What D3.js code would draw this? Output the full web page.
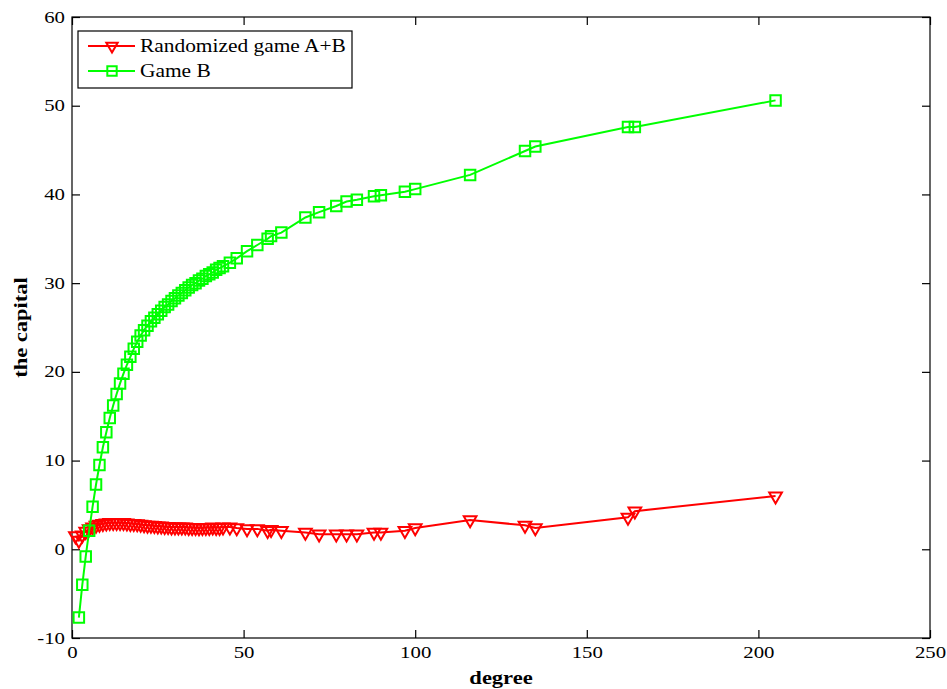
<!DOCTYPE html>
<html>
<head>
<meta charset="utf-8">
<script src="https://cdn.jsdelivr.net/npm/d3@7"></script>
<style>
  body { margin: 0; background: #fff; }
  #box1 { width: 947px; height: 689px; }
</style>
</head>
<body>
<div id="box1"><svg id="box1_svg"></svg></div>
<script>
"use strict";

// randomized game A+B (red, triangles)
const degree_red = [1, 2, 3, 4, 5, 6, 7, 8, 9, 10, 11, 12, 13, 14, 15, 16, 17, 18, 19, 20,
  21, 22, 23, 24, 25, 26, 27, 28, 29, 30, 31, 32, 33, 34, 35, 36, 37, 38, 39, 40, 41, 42, 43, 44,
  46, 48, 51, 54, 57, 58, 61, 68, 72, 77, 80, 83, 88, 90, 97, 100, 116, 132, 135, 162, 164, 205];
const capital_red = [1.5, 1.0, 1.6, 2.0, 2.3, 2.5, 2.7, 2.8, 2.9, 2.95, 3.0, 3.0, 3.0, 3.0, 3.0, 2.95, 2.9, 2.9, 2.85, 2.8,
  2.75, 2.7, 2.7, 2.65, 2.6, 2.6, 2.55, 2.55, 2.5, 2.5, 2.5, 2.5, 2.5, 2.45, 2.45, 2.45, 2.4, 2.45, 2.45, 2.45, 2.5, 2.45, 2.45, 2.5,
  2.5, 2.4, 2.3, 2.3, 2.1, 2.2, 2.1, 1.9, 1.7, 1.7, 1.7, 1.7, 1.9, 1.9, 2.1, 2.4, 3.3, 2.7, 2.4, 3.6, 4.3, 6.0];

// game B (green, squares)
const degree_green = [2, 3, 4, 5, 6, 7, 8, 9, 10, 11, 12, 13, 14, 15, 16, 17, 18, 19, 20,
  21, 22, 23, 24, 25, 26, 27, 28, 29, 30, 31, 32, 33, 34, 35, 36, 37, 38, 39, 40, 41, 42, 43, 44,
  46, 48, 51, 54, 57, 58, 61, 68, 72, 77, 80, 83, 88, 90, 97, 100, 116, 132, 135, 162, 164, 205];
const capital_green = [-7.7, -4.0, -0.8, 2.1, 4.8, 7.3, 9.5, 11.5, 13.2, 14.8, 16.2, 17.5, 18.7, 19.8, 20.8, 21.7, 22.6, 23.4, 24.1,
  24.7, 25.2, 25.7, 26.1, 26.5, 26.9, 27.3, 27.6, 28.0, 28.3, 28.6, 28.9, 29.2, 29.5, 29.8, 30.0, 30.3, 30.5, 30.8, 31.0, 31.2, 31.5, 31.7, 31.9,
  32.3, 32.8, 33.6, 34.3, 35.0, 35.3, 35.7, 37.4, 38.0, 38.7, 39.2, 39.4, 39.8, 39.9, 40.3, 40.6, 42.2, 44.9, 45.4, 47.6, 47.6, 50.6];

// axes
const x_ticks = [0, 50, 100, 150, 200, 250];
const y_ticks = [-10, 0, 10, 20, 30, 40, 50, 60];
const legend_labels = ["Randomized game A+B", "Game B"];

const serif = '"Liberation Serif", "Times New Roman", serif';

const render = () => {
  const width = 947, height = 689;
  const m = { left: 72, right: 930, top: 17, bottom: 638 };
  const tick_len = 8;

  const svg = d3.select("#box1_svg").attr("width", width).attr("height", height);

  const x = d3.scaleLinear().domain([0, 250]).range([m.left, m.right]);
  const y = d3.scaleLinear().domain([-10, 60]).range([m.bottom, m.top]);

  // frame
  svg.append("rect")
    .attr("x", m.left).attr("y", m.top)
    .attr("width", m.right - m.left).attr("height", m.bottom - m.top)
    .attr("fill", "#fff").attr("stroke", "#000").attr("stroke-width", 1.2);

  // plain hyphen minus like matlab
  const fmt = d => String(d);

  // inward ticks on all four sides (matlab box)
  const ax_bottom = svg.append("g").attr("transform", `translate(0,${m.bottom})`)
    .call(d3.axisBottom(x).tickValues(x_ticks).tickSizeInner(-tick_len).tickSizeOuter(0).tickFormat(fmt));
  const ax_top = svg.append("g").attr("transform", `translate(0,${m.top})`)
    .call(d3.axisTop(x).tickValues(x_ticks).tickSizeInner(-tick_len).tickSizeOuter(0).tickFormat(""));
  const ax_left = svg.append("g").attr("transform", `translate(${m.left},0)`)
    .call(d3.axisLeft(y).tickValues(y_ticks).tickSizeInner(-tick_len).tickSizeOuter(0).tickFormat(fmt));
  const ax_right = svg.append("g").attr("transform", `translate(${m.right},0)`)
    .call(d3.axisRight(y).tickValues(y_ticks).tickSizeInner(-tick_len).tickSizeOuter(0).tickFormat(""));

  [ax_bottom, ax_top, ax_left, ax_right].forEach(a => {
    a.attr("font-family", null).attr("font-size", null);
    a.select(".domain").remove();
    a.selectAll(".tick line").attr("stroke", "#000").attr("stroke-width", 1.2);
  });

  // tick labels: serif, stretched wide like the original bitmap
  ax_bottom.selectAll(".tick text")
    .style("font-family", serif).style("font-size", "16px")
    .attr("y", 0).attr("dy", null)
    .attr("transform", "translate(0,20) scale(1.3,1)");
  ax_left.selectAll(".tick text")
    .style("font-family", serif).style("font-size", "16px")
    .attr("x", 0).attr("dy", "0.32em")
    .attr("text-anchor", "end")
    .attr("transform", "translate(-7,0) scale(1.3,1)");

  // axis labels
  svg.append("text")
    .text("degree")
    .attr("transform", `translate(${(m.left + m.right) / 2},${height - 5}) scale(1.25,1)`)
    .attr("text-anchor", "middle")
    .style("font-family", serif).style("font-size", "18px").style("font-weight", "bold");

  svg.append("text")
    .text("the capital")
    .attr("transform", `translate(27,${(m.top + m.bottom) / 2}) rotate(-90) scale(1.25,1)`)
    .attr("text-anchor", "middle")
    .style("font-family", serif).style("font-size", "18px").style("font-weight", "bold");

  // series
  const series = [
    { xs: degree_red, ys: capital_red, color: "#ff0000", symbol: d3.symbolTriangle, size: 70, rot: 180 },
    { xs: degree_green, ys: capital_green, color: "#00ff00", symbol: d3.symbolSquare, size: 110, rot: 0 }
  ];

  const line = d3.line().x(d => x(d[0])).y(d => y(d[1]));

  series.forEach(s => {
    const pts = s.xs.map((d, i) => [d, s.ys[i]]);
    const g = svg.append("g");
    g.append("path")
      .attr("d", line(pts))
      .attr("fill", "none")
      .attr("stroke", s.color)
      .attr("stroke-width", 2);
    g.selectAll("path.mk")
      .data(pts)
      .join("path")
      .attr("class", "mk")
      .attr("d", d3.symbol().type(s.symbol).size(s.size))
      .attr("transform", d => `translate(${x(d[0])},${y(d[1])}) rotate(${s.rot})`)
      .attr("fill", "none")
      .attr("stroke", s.color)
      .attr("stroke-width", 2);
  });

  // legend
  const lg = svg.append("g");
  lg.append("rect")
    .attr("x", 78).attr("y", 31).attr("width", 274).attr("height", 57)
    .attr("fill", "#fff").attr("stroke", "#000").attr("stroke-width", 1.2);

  series.forEach((s, i) => {
    const yy = 46 + i * 25;
    lg.append("line")
      .attr("x1", 88).attr("x2", 135).attr("y1", yy).attr("y2", yy)
      .attr("stroke", s.color).attr("stroke-width", 2);
    lg.append("path")
      .attr("d", d3.symbol().type(s.symbol).size(s.size * 0.8))
      .attr("transform", `translate(112,${yy}) rotate(${s.rot})`)
      .attr("fill", "none").attr("stroke", s.color).attr("stroke-width", 2);
    lg.append("text")
      .text(legend_labels[i])
      .attr("transform", `translate(140,${yy + 6}) scale(1.19,1)`)
      .style("font-family", serif).style("font-size", "18px");
  });
};

render();
</script>
</body>
</html>
